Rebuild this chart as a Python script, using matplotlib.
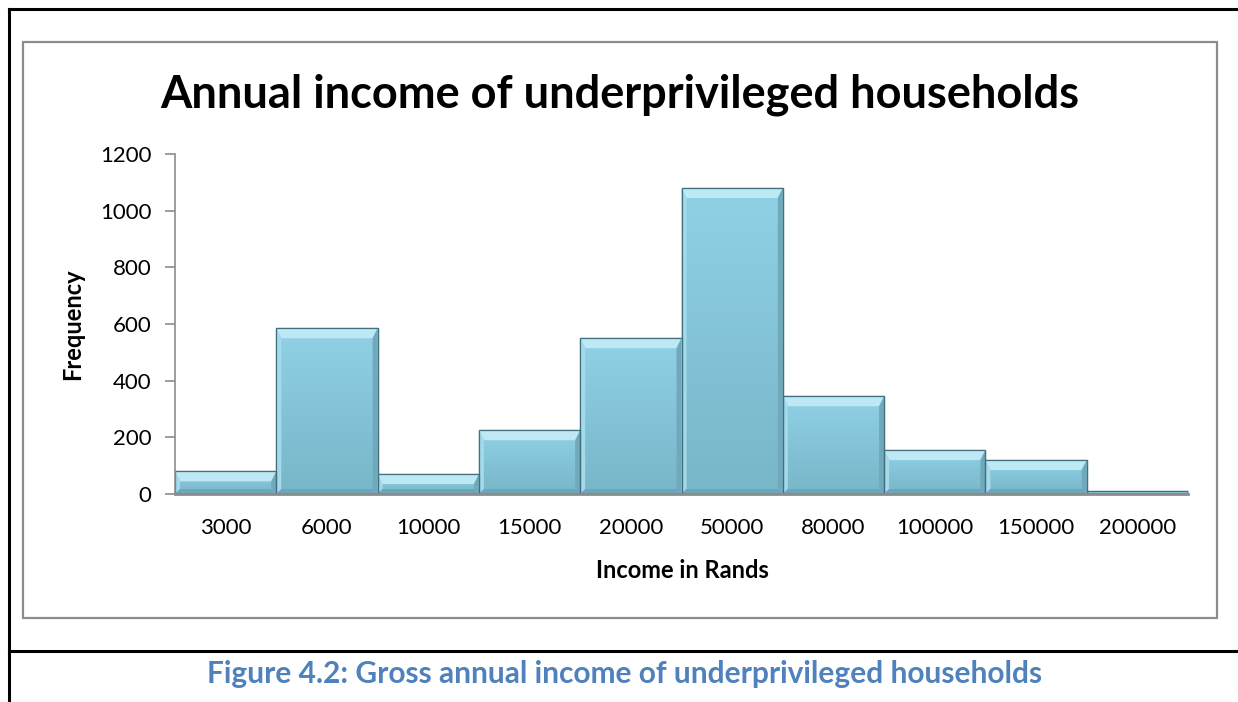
import matplotlib.pyplot as plt
from matplotlib.patches import Rectangle, Polygon
from matplotlib.lines import Line2D
from matplotlib.colors import LinearSegmentedColormap
import numpy as np

plt.rcParams['font.family'] = ['Lato', 'DejaVu Sans']

income_bins = ['3000', '6000', '10000', '15000', '20000',
               '50000', '80000', '100000', '150000', '200000']
frequency = [80, 585, 70, 225, 550, 1080, 345, 155, 120, 10]
y_ticks = [0, 200, 400, 600, 800, 1000, 1200]

face = '#88C9DE'
light = '#BDE8F4'
edge = '#41707F'
grad_cmap = LinearSegmentedColormap.from_list('bar', ['#78B6C9', '#90D1E6'])

fig = plt.figure(figsize=(12.38, 7.02), dpi=100)
fig.patch.set_facecolor('white')

# page table lines and chart frame, placed in pixel units
W, H = 1238, 702
def fx(px): return px / W
def fy(py): return 1 - py / H

fig.add_artist(Line2D([fx(9), fx(9)], [fy(9), 0], color='black', lw=2.2))
fig.add_artist(Line2D([fx(9), 1], [fy(9), fy(9)], color='black', lw=2.2))
fig.add_artist(Line2D([fx(9), 1], [fy(651), fy(651)], color='black', lw=2.2))
fig.add_artist(Rectangle((fx(23), fy(618)), fx(1217) - fx(23), fy(42) - fy(618),
                         transform=fig.transFigure, fill=False,
                         edgecolor='#8C8C8C', lw=1.6))

ax = fig.add_axes([fx(175), fy(494), fx(1188) - fx(175), fy(154) - fy(494)])
ax.set_xlim(-0.5, len(income_bins) - 0.5)
ax.set_ylim(0, 1200)

x = np.arange(len(income_bins))
bars = ax.bar(x, frequency, width=1.0, color=face, edgecolor=edge,
              linewidth=0.9, zorder=2)

# bevel effect on each bar, sized in pixels
fig.canvas.draw()
to_px = ax.transData
inv = ax.transData.inverted()
grad = np.linspace(0, 1, 64).reshape(-1, 1)
for b in bars:
    x0, y0 = b.get_x(), b.get_y()
    x1, y1 = x0 + b.get_width(), y0 + b.get_height()
    (px0, py0), (px1, py1) = to_px.transform([(x0, y0), (x1, y1)])
    d = min(10, (py1 - py0) / 2)
    s = min(5, (py1 - py0) / 2)
    im = ax.imshow(grad, extent=(x0, x1, y0, y1), origin='lower',
                   cmap=grad_cmap, aspect='auto', zorder=2.1)
    im.set_clip_path(b)
    top = inv.transform([(px0, py1), (px1, py1), (px1 - s, py1 - d), (px0 + s, py1 - d)])
    ax.add_patch(Polygon(top, closed=True, facecolor=light, edgecolor='none', zorder=2.2))
    left = inv.transform([(px0, py1), (px0 + s, py1 - d), (px0 + s, py0 + s), (px0, py0)])
    ax.add_patch(Polygon(left, closed=True, facecolor='#A4DAEA', edgecolor='none', zorder=2.2))
    right = inv.transform([(px1, py1), (px1 - s, py1 - d), (px1 - s, py0 + s), (px1, py0)])
    ax.add_patch(Polygon(right, closed=True, facecolor='#6FA9BB', edgecolor='none', zorder=2.2))
    bot = inv.transform([(px0, py0), (px0 + s, py0 + s), (px1 - s, py0 + s), (px1, py0)])
    ax.add_patch(Polygon(bot, closed=True, facecolor='#6EA6B8', edgecolor='none', zorder=2.2))
    ax.add_patch(Rectangle((x0, y0), x1 - x0, y1 - y0, fill=False,
                           edgecolor=edge, lw=0.9, zorder=2.3))

ax.set_xlim(-0.5, len(income_bins) - 0.5)
ax.set_ylim(0, 1200)

for sp in ['top', 'right']:
    ax.spines[sp].set_visible(False)
ax.spines['left'].set_color('#8C8C8C')
ax.spines['bottom'].set_color('#8C8C8C')
ax.spines['left'].set_linewidth(1.2)
ax.spines['bottom'].set_linewidth(2.0)

ax.set_xticks(x)
ax.set_xticklabels(income_bins, fontsize=16)
ax.set_yticks(y_ticks)
ax.set_yticklabels([str(v) for v in y_ticks], fontsize=16)
ax.tick_params(axis='x', length=0, pad=17)
ax.tick_params(axis='y', length=7, width=1.2, color='#8C8C8C', pad=10)

ax.set_xlabel('Income in Rands', fontsize=17, fontweight='bold')
ax.set_ylabel('Frequency', fontsize=17, fontweight='bold')
ax.xaxis.set_label_coords((682 - 175) / 1013, (494 - 571) / 340)
ax.xaxis.label.set_va('center')
ax.yaxis.set_label_coords((73 - 175) / 1013, (494 - 324) / 340)
ax.yaxis.label.set_va('center')

fig.text(fx(620), fy(95), 'Annual income of underprivileged households',
         fontsize=32.5, fontweight='bold', ha='center', va='center')
fig.text(fx(625), fy(674), 'Figure 4.2: Gross annual income of underprivileged households',
         fontsize=21.5, fontweight='bold', color='#4F81BD', ha='center', va='center')

fig.savefig('out.png', dpi=100)
